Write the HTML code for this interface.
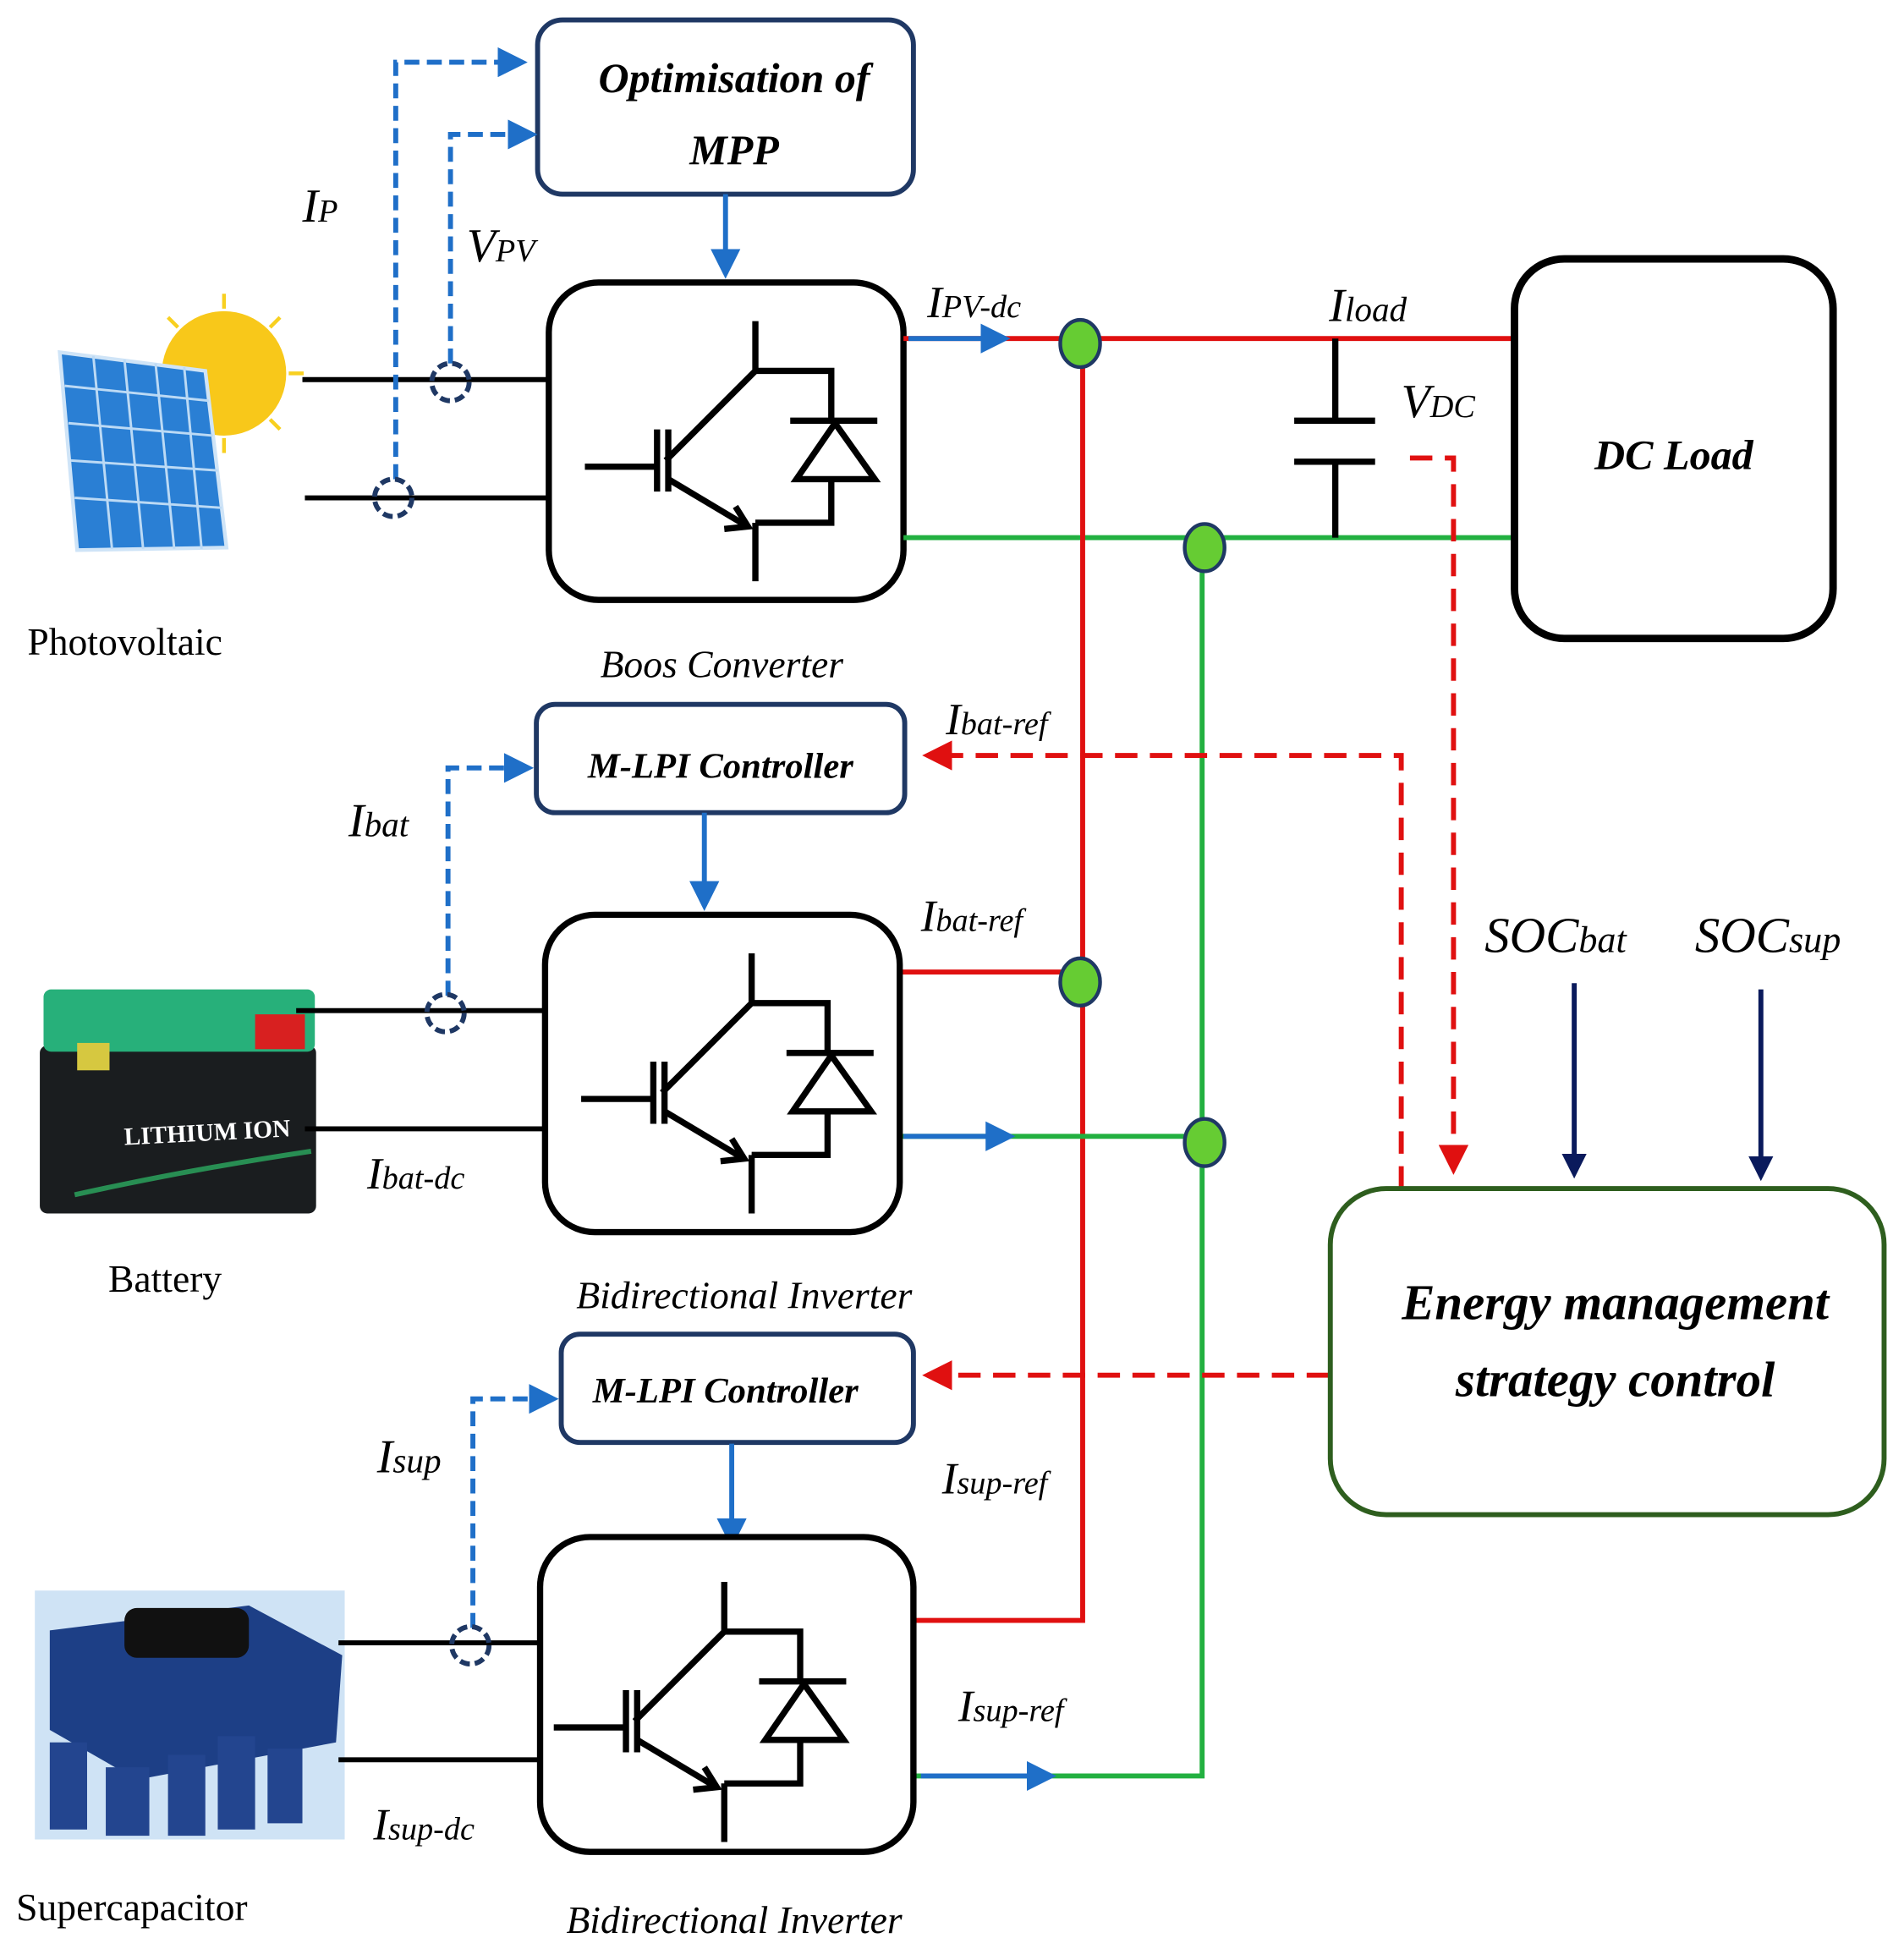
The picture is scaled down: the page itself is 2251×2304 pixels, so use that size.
<!DOCTYPE html>
<html><head><meta charset="utf-8"><style>
html,body{margin:0;padding:0;background:#fff}
svg{display:block}
text{font-family:"Liberation Serif",serif;font-style:italic}
text.up{font-style:normal}
</style></head><body>
<svg width="2251" height="2304" viewBox="0 0 1530 1566" xmlns="http://www.w3.org/2000/svg">
<defs>
<marker id="ab" markerWidth="6" markerHeight="6" refX="5" refY="3" orient="auto" markerUnits="strokeWidth"><path d="M0,0 L6,3 L0,6 z" fill="#1f6fc8"/></marker>
<marker id="ar" markerWidth="6" markerHeight="6" refX="5" refY="3" orient="auto" markerUnits="strokeWidth"><path d="M0,0 L6,3 L0,6 z" fill="#e01010"/></marker>
<marker id="an" markerWidth="5" markerHeight="5" refX="4" refY="2.5" orient="auto" markerUnits="strokeWidth"><path d="M0,0 L5,2.5 L0,5 z" fill="#0a1a5c"/></marker>
<g id="igbt" fill="none" stroke="#000" stroke-width="5">
<path d="M166,31 V71 L94,143"/>
<path d="M87,118 V168"/><path d="M96,118 V168"/>
<path d="M29,148 H87"/>
<path d="M96,158 L158,195"/>
<path d="M150,180 L160,196 L141,198" fill="none"/>
<path d="M166,193 V240"/>
<path d="M166,71 H227 V111"/>
<path d="M194,111 H264"/>
<path d="M199,158 H262 L230,113 Z"/>
<path d="M227,158 V193 H166"/>
</g>
</defs>

<!-- PV image -->
<circle cx="180" cy="300" r="50" fill="#f8c81a"/>
<g stroke="#f8d020" stroke-width="3">
<path d="M180,236 V248 M180,352 V364 M116,300 H128 M232,300 H244 M135,255 L143,263 M217,337 L225,345 M225,255 L217,263 M143,337 L135,345"/>
</g>
<polygon points="48,283 165,298 182,440 62,442" fill="#2a7fd4" stroke="#cfe4f7" stroke-width="3"/>
<g stroke="#bcdaf5" stroke-width="2">
<path d="M52,310 L168,322 M55,340 L171,350 M57,370 L175,378 M60,400 L178,408"/>
<path d="M75,286 L90,441 M100,289 L115,441 M125,292 L140,441 M148,295 L162,441"/>
</g>

<!-- Battery image -->
<rect x="32" y="840" width="222" height="135" rx="6" fill="#1a1d1f"/>
<rect x="35" y="795" width="218" height="50" rx="6" fill="#27b07a"/>
<rect x="205" y="815" width="40" height="28" fill="#d82020"/>
<rect x="62" y="838" width="26" height="22" fill="#d6c840"/>
<text class="up" x="100" y="920" font-weight="bold" font-size="20" fill="#fff" font-family="Liberation Sans,sans-serif" transform="rotate(-3 100 920)">LITHIUM ION</text>
<path d="M60,960 Q150,940 250,925" stroke="#2fbf6a" stroke-width="4" fill="none" opacity="0.7"/>

<!-- Supercap image -->
<rect x="28" y="1278" width="249" height="200" fill="#cfe3f5"/>
<polygon points="40,1310 200,1290 275,1330 270,1400 110,1430 40,1390" fill="#1d3f86"/>
<rect x="100" y="1292" width="100" height="40" rx="10" fill="#111"/>
<g fill="#23458f">
<rect x="40" y="1400" width="30" height="70"/><rect x="85" y="1420" width="35" height="55"/><rect x="135" y="1410" width="30" height="65"/><rect x="175" y="1395" width="30" height="75"/><rect x="215" y="1405" width="28" height="60"/>
</g>

<!-- labels left -->
<text class="up" x="22" y="526" font-size="31" style="font-style:normal">Photovoltaic</text>
<text class="up" x="87" y="1038" font-size="31" style="font-style:normal">Battery</text>
<text class="up" x="13" y="1543" font-size="31" style="font-style:normal">Supercapacitor</text>

<!-- MPP box -->
<rect x="432" y="16" width="302" height="140" rx="20" fill="#fff" stroke="#1f3864" stroke-width="4"/>
<text x="590" y="74" text-anchor="middle" font-weight="bold" font-size="34">Optimisation of</text>
<text x="590" y="132" text-anchor="middle" font-weight="bold" font-size="34">MPP</text>
<path d="M583,156 V220" stroke="#1f6fc8" stroke-width="4" marker-end="url(#ab)"/>

<!-- converter 1 -->
<rect x="441" y="227" width="285" height="255" rx="40" fill="#fff" stroke="#000" stroke-width="5"/>
<use href="#igbt" x="441" y="227"/>
<text x="580" y="544" text-anchor="middle" font-size="31">Boos Converter</text>
<path d="M243,305 H441 M245,400 H441" stroke="#000" stroke-width="4"/>
<path d="M318,385 V50 H420" stroke="#1f6fc8" stroke-width="4" stroke-dasharray="12,6" fill="none" marker-end="url(#ab)"/>
<path d="M362,292 V108 H428" stroke="#1f6fc8" stroke-width="4" stroke-dasharray="12,6" fill="none" marker-end="url(#ab)"/>
<circle cx="362" cy="307" r="15" fill="none" stroke="#1f3864" stroke-width="4" stroke-dasharray="8,4"/>
<circle cx="316" cy="400" r="15" fill="none" stroke="#1f3864" stroke-width="4" stroke-dasharray="8,4"/>
<text x="243" y="178" font-size="38">I<tspan font-size="26">P</tspan></text>
<text x="375" y="210" font-size="38">V<tspan font-size="26">PV</tspan></text>

<!-- bus -->
<path d="M726,272 H1215" stroke="#e01010" stroke-width="4"/>
<path d="M726,432 H1215" stroke="#22b040" stroke-width="4"/>
<path d="M730,272 H808" stroke="#1f6fc8" stroke-width="4" marker-end="url(#ab)"/>
<path d="M870,276 V1302 H735" stroke="#e01010" stroke-width="4" fill="none"/>
<path d="M966,440 V1427 H735" stroke="#22b040" stroke-width="4" fill="none"/>
<path d="M723,781 H868" stroke="#e01010" stroke-width="4"/>
<path d="M723,913 H968" stroke="#22b040" stroke-width="4"/>
<path d="M726,913 H812" stroke="#1f6fc8" stroke-width="4" marker-end="url(#ab)"/>
<path d="M740,1427 H845" stroke="#1f6fc8" stroke-width="4" marker-end="url(#ab)"/>
<text x="745" y="255" font-size="36">I<tspan font-size="26">PV-dc</tspan></text>
<text x="1068" y="258" font-size="38">I<tspan font-size="28">load</tspan></text>
<text x="1126" y="335" font-size="38">V<tspan font-size="26">DC</tspan></text>

<!-- capacitor -->
<path d="M1073,272 V338 M1040,338 H1105 M1040,371 H1105 M1073,371 V432" stroke="#000" stroke-width="5" fill="none"/>

<!-- DC load -->
<rect x="1217" y="208" width="256" height="305" rx="40" fill="#fff" stroke="#000" stroke-width="6"/>
<text x="1345" y="377" text-anchor="middle" font-weight="bold" font-size="34">DC Load</text>

<!-- red dashed -->
<path d="M1133,368 H1168 V940" stroke="#e01010" stroke-width="4" stroke-dasharray="18,10" fill="none" marker-end="url(#ar)"/>
<path d="M1126,955 V607 H745" stroke="#e01010" stroke-width="4" stroke-dasharray="18,10" fill="none" marker-end="url(#ar)"/>
<path d="M1068,1105 H745" stroke="#e01010" stroke-width="4" stroke-dasharray="18,10" fill="none" marker-end="url(#ar)"/>
<text x="760" y="590" font-size="36">I<tspan font-size="26">bat-ref</tspan></text>

<!-- controller 1 -->
<rect x="431" y="566" width="296" height="87" rx="15" fill="#fff" stroke="#1f3864" stroke-width="4"/>
<text x="579" y="625" text-anchor="middle" font-weight="bold" font-size="29">M-LPI Controller</text>
<path d="M566,653 V728" stroke="#1f6fc8" stroke-width="4" marker-end="url(#ab)"/>

<!-- converter 2 -->
<rect x="438" y="735" width="285" height="255" rx="40" fill="#fff" stroke="#000" stroke-width="5"/>
<use href="#igbt" x="438" y="735"/>
<text x="598" y="1051" text-anchor="middle" font-size="31">Bidirectional Inverter</text>
<path d="M238,812 H438 M245,907 H438" stroke="#000" stroke-width="4"/>
<path d="M360,800 V617 H425" stroke="#1f6fc8" stroke-width="4" stroke-dasharray="12,6" fill="none" marker-end="url(#ab)"/>
<circle cx="358" cy="814" r="15" fill="none" stroke="#1f3864" stroke-width="4" stroke-dasharray="8,4"/>
<text x="280" y="672" font-size="38">I<tspan font-size="28">bat</tspan></text>
<text x="740" y="748" font-size="36">I<tspan font-size="26">bat-ref</tspan></text>
<text x="295" y="955" font-size="36">I<tspan font-size="26">bat-dc</tspan></text>

<!-- controller 2 -->
<rect x="451" y="1072" width="283" height="87" rx="15" fill="#fff" stroke="#1f3864" stroke-width="4"/>
<text x="583" y="1127" text-anchor="middle" font-weight="bold" font-size="29">M-LPI Controller</text>
<path d="M588,1160 V1240" stroke="#1f6fc8" stroke-width="4" marker-end="url(#ab)"/>

<!-- converter 3 -->
<rect x="434" y="1235" width="300" height="253" rx="40" fill="#fff" stroke="#000" stroke-width="5"/>
<use href="#igbt" x="416" y="1240"/>
<text x="590" y="1553" text-anchor="middle" font-size="31">Bidirectional Inverter</text>
<path d="M272,1320 H434 M272,1414 H434" stroke="#000" stroke-width="4"/>
<path d="M380,1308 V1124 H445" stroke="#1f6fc8" stroke-width="4" stroke-dasharray="12,6" fill="none" marker-end="url(#ab)"/>
<circle cx="378" cy="1322" r="15" fill="none" stroke="#1f3864" stroke-width="4" stroke-dasharray="8,4"/>
<text x="303" y="1183" font-size="38">I<tspan font-size="28">sup</tspan></text>
<text x="757" y="1200" font-size="36">I<tspan font-size="26">sup-ref</tspan></text>
<text x="770" y="1383" font-size="36">I<tspan font-size="26">sup-ref</tspan></text>
<text x="300" y="1478" font-size="36">I<tspan font-size="26">sup-dc</tspan></text>

<!-- nodes -->
<g fill="#66cc33" stroke="#1f3864" stroke-width="3">
<ellipse cx="868" cy="276" rx="16" ry="19"/>
<ellipse cx="968" cy="440" rx="16" ry="19"/>
<ellipse cx="868" cy="789" rx="16" ry="19"/>
<ellipse cx="968" cy="918" rx="16" ry="19"/>
</g>

<!-- EMS -->
<rect x="1069" y="955" width="445" height="262" rx="45" fill="#fff" stroke="#2e5e1e" stroke-width="4"/>
<text x="1298" y="1060" text-anchor="middle" font-weight="bold" font-size="40">Energy management</text>
<text x="1298" y="1122" text-anchor="middle" font-weight="bold" font-size="40">strategy control</text>
<path d="M1265,790 V943" stroke="#0a1a5c" stroke-width="4" marker-end="url(#an)"/>
<path d="M1415,795 V945" stroke="#0a1a5c" stroke-width="4" marker-end="url(#an)"/>
<text x="1193" y="765" font-size="40">SOC<tspan font-size="30">bat</tspan></text>
<text x="1362" y="765" font-size="40">SOC<tspan font-size="30">sup</tspan></text>
</svg>
</body></html>
